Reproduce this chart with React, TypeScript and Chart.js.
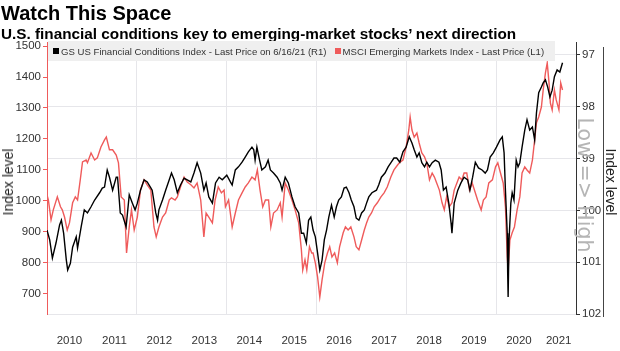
import React, { useEffect, useRef } from "react";
import { Chart, registerables } from "chart.js";

Chart.register(...registerables);

const titleText = "Watch This Space";
const subtitleText = "U.S. financial conditions key to emerging-market stocks’ next direction";
const gsLabel = "GS US Financial Conditions Index - Last Price on 6/16/21 (R1)";
const msciLabel = "MSCI Emerging Markets Index - Last Price (L1)";
const axisTitle = "Index level";
const directionNote = "Low => High";

const yearLabels = ["2010", "2011", "2012", "2013", "2014", "2015", "2016", "2017", "2018", "2019", "2020", "2021"];
const leftTicks = [700, 800, 900, 1000, 1100, 1200, 1300, 1400, 1500];
const rightTicks = [97, 98, 99, 100, 101, 102];

// GS US Financial Conditions Index (right axis, inverted)
const gsDates = [
  2010.0, 2010.06, 2010.12, 2010.2, 2010.28, 2010.32, 2010.37, 2010.43, 2010.46, 2010.52, 2010.57, 2010.65, 2010.68,
  2010.76, 2010.83, 2010.9, 2010.98, 2011.06, 2011.17, 2011.23, 2011.28, 2011.34, 2011.39, 2011.46, 2011.54, 2011.57,
  2011.63, 2011.68, 2011.76, 2011.83, 2011.9, 2011.96, 2012.01, 2012.08, 2012.16, 2012.23, 2012.3, 2012.34, 2012.42,
  2012.46, 2012.49, 2012.57, 2012.64, 2012.72, 2012.77, 2012.83, 2012.9, 2012.97, 2013.05, 2013.12, 2013.2, 2013.27,
  2013.34, 2013.42, 2013.49, 2013.54, 2013.6, 2013.68, 2013.75, 2013.83, 2013.9, 2014.0, 2014.08, 2014.12, 2014.19,
  2014.26, 2014.34, 2014.41, 2014.48, 2014.56, 2014.6, 2014.63, 2014.67, 2014.73, 2014.78, 2014.86, 2014.92, 2014.97,
  2015.04, 2015.12, 2015.19, 2015.23, 2015.3, 2015.37, 2015.45, 2015.52, 2015.6, 2015.66, 2015.71, 2015.77, 2015.82,
  2015.87, 2015.92, 2015.97, 2016.02, 2016.07, 2016.12, 2016.17, 2016.22, 2016.27, 2016.33, 2016.39, 2016.44, 2016.49,
  2016.55, 2016.61, 2016.66, 2016.72, 2016.77, 2016.83, 2016.88, 2016.94, 2017.0, 2017.06, 2017.11, 2017.16, 2017.23,
  2017.33, 2017.38, 2017.44, 2017.52, 2017.59, 2017.66, 2017.72, 2017.78, 2017.85, 2017.92, 2017.99, 2018.06, 2018.12,
  2018.17, 2018.23, 2018.28, 2018.34, 2018.4, 2018.45, 2018.51, 2018.57, 2018.64, 2018.72, 2018.77, 2018.82, 2018.88,
  2018.94, 2018.99, 2019.01, 2019.06, 2019.14, 2019.21, 2019.28, 2019.36, 2019.41, 2019.47, 2019.53, 2019.6, 2019.68,
  2019.75, 2019.8, 2019.86, 2019.93, 2020.0, 2020.08, 2020.13, 2020.17, 2020.2, 2020.24, 2020.25, 2020.26, 2020.28,
  2020.32, 2020.35, 2020.39, 2020.44, 2020.48, 2020.52, 2020.57, 2020.63, 2020.68, 2020.74, 2020.8, 2020.85, 2020.89,
  2020.94, 2021.0, 2021.04, 2021.09, 2021.14, 2021.19, 2021.24, 2021.29, 2021.35, 2021.41, 2021.47,
];
const gsValues = [
  100.38, 100.57, 100.92, 100.63, 100.28, 100.19, 100.44, 100.96, 101.15, 101.02, 100.71, 100.51, 100.73,
  100.32, 99.99, 100.05, 99.93, 99.8, 99.66, 99.57, 99.55, 99.22, 99.36, 99.61, 99.36, 99.36,
  100.05, 100.09, 100.32, 99.7, 99.86, 99.99, 99.86, 99.61, 99.41, 99.45, 99.55, 99.61, 100.05,
  100.19, 99.99, 99.8, 99.61, 99.41, 99.28, 99.41, 99.66, 99.51, 99.38, 99.41, 99.45, 99.28,
  99.08, 99.28, 99.61, 99.47, 99.74, 99.86, 99.47, 99.36, 99.41, 99.32, 99.45, 99.51, 99.22,
  99.16, 99.07, 98.97, 98.87, 98.78, 98.83, 99.03, 98.78, 99.03, 99.22, 99.16, 99.03, 99.22,
  99.28, 99.36, 99.47, 99.61, 99.36, 99.47, 99.74, 99.93, 100.05, 100.44, 100.44, 100.63, 100.19,
  100.13, 100.38, 100.51, 100.82, 101.15, 100.96, 100.57, 100.38, 100.13, 99.9, 100.13, 99.93, 99.8,
  99.74, 99.57, 99.55, 99.66, 99.8, 99.93, 100.15, 100.19, 100.05, 99.99, 99.86, 99.74, 99.66,
  99.61, 99.51, 99.36, 99.28, 99.16, 99.07, 98.99, 98.99, 99.07, 98.87, 98.78, 98.58, 98.7,
  98.83, 98.97, 98.89, 99.08, 99.16, 99.07, 99.16, 99.08, 99.03, 99.07, 99.22, 99.61, 99.55,
  99.86, 100.24, 100.44, 99.86, 99.61, 99.47, 99.36, 99.41, 99.61, 99.36, 99.07, 99.18, 99.22,
  99.28, 99.22, 98.97, 98.89, 98.78, 98.64, 98.58, 98.89, 99.61, 100.44, 101.21, 101.67, 100.57,
  99.86, 99.66, 99.8, 99.03, 99.16, 99.08, 98.78, 98.45, 98.25, 98.45, 98.39, 98.64, 98.12,
  97.73, 97.62, 97.54, 97.48, 97.62, 97.81, 97.68, 97.42, 97.29, 97.33, 97.15,
];

// MSCI Emerging Markets Index (left axis)
const msciDates = [
  2010.0, 2010.03, 2010.09, 2010.14, 2010.23, 2010.3, 2010.34, 2010.39, 2010.45, 2010.5, 2010.57, 2010.63, 2010.68,
  2010.74, 2010.79, 2010.87, 2010.9, 2010.98, 2011.06, 2011.12, 2011.2, 2011.28, 2011.32, 2011.39, 2011.46, 2011.54,
  2011.59, 2011.65, 2011.72, 2011.77, 2011.83, 2011.88, 2011.94, 2012.01, 2012.08, 2012.16, 2012.23, 2012.31, 2012.38,
  2012.43, 2012.49, 2012.57, 2012.64, 2012.72, 2012.77, 2012.85, 2012.9, 2012.97, 2013.05, 2013.12, 2013.2, 2013.27,
  2013.34, 2013.42, 2013.49, 2013.54, 2013.6, 2013.68, 2013.74, 2013.81, 2013.88, 2013.94, 2013.97, 2014.04, 2014.12,
  2014.19, 2014.26, 2014.34, 2014.41, 2014.48, 2014.56, 2014.63, 2014.68, 2014.74, 2014.8, 2014.86, 2014.93, 2014.98,
  2015.04, 2015.12, 2015.19, 2015.23, 2015.3, 2015.37, 2015.45, 2015.52, 2015.6, 2015.66, 2015.69, 2015.74, 2015.78,
  2015.84, 2015.89, 2015.92, 2015.97, 2016.02, 2016.07, 2016.12, 2016.18, 2016.24, 2016.29, 2016.34, 2016.4, 2016.46,
  2016.51, 2016.59, 2016.64, 2016.7, 2016.76, 2016.83, 2016.88, 2016.94, 2017.0, 2017.06, 2017.11, 2017.16, 2017.22,
  2017.28, 2017.35, 2017.43, 2017.5, 2017.57, 2017.65, 2017.72, 2017.8, 2017.84, 2017.92, 2017.99, 2018.05, 2018.08,
  2018.12, 2018.17, 2018.23, 2018.28, 2018.34, 2018.4, 2018.45, 2018.51, 2018.57, 2018.62, 2018.67, 2018.73, 2018.79,
  2018.84, 2018.89, 2018.95, 2019.01, 2019.06, 2019.12, 2019.17, 2019.23, 2019.28, 2019.34, 2019.4, 2019.46, 2019.51,
  2019.58, 2019.66, 2019.71, 2019.77, 2019.83, 2019.91, 2019.98, 2020.03, 2020.09, 2020.15, 2020.2, 2020.24, 2020.26,
  2020.3, 2020.35, 2020.4, 2020.46, 2020.52, 2020.57, 2020.63, 2020.68, 2020.74, 2020.8, 2020.85, 2020.89, 2020.94,
  2021.0, 2021.04, 2021.09, 2021.13, 2021.17, 2021.2, 2021.24, 2021.29, 2021.33, 2021.39, 2021.43, 2021.47,
];
const msciValues = [
  1019, 1003, 939, 971, 1013, 981, 971, 948, 906, 929, 994, 1013, 1003,
  1068, 1126, 1132, 1123, 1155, 1132, 1139, 1174, 1197, 1206, 1165, 1165, 1148,
  1123, 1013, 1003, 832, 916, 971, 906, 948, 1035, 1068, 1052, 1035, 916,
  884, 916, 948, 961, 1003, 1010, 1003, 1013, 1045, 1077, 1061, 1052, 1042,
  1058, 1003, 884, 961, 948, 929, 1003, 1045, 1026, 1035, 981, 1003, 916,
  961, 1003, 1026, 1045, 1058, 1077, 1068, 1100, 1035, 981, 1003, 1003, 916,
  961, 971, 994, 948, 1058, 1035, 1003, 971, 929, 842, 777, 810, 777,
  852, 832, 832, 800, 755, 690, 745, 800, 832, 852, 819, 832, 800,
  852, 897, 916, 906, 916, 884, 852, 842, 874, 906, 929, 948, 961,
  981, 994, 1013, 1026, 1045, 1077, 1100, 1116, 1123, 1132, 1174, 1229, 1271,
  1229, 1206, 1219, 1187, 1155, 1142, 1123, 1068, 1090, 1077, 1058, 1035, 994,
  971, 1013, 981, 994, 1035, 1058, 1077, 1068, 1090, 1090, 1035, 1058, 1035,
  1003, 971, 1003, 1013, 1058, 1068, 1110, 1123, 1090, 1058, 981, 819, 777,
  874, 897, 916, 971, 1013, 1090, 1110, 1100, 1090, 1132, 1197, 1252, 1271,
  1303, 1358, 1413, 1445, 1381, 1316, 1294, 1358, 1326, 1294, 1381, 1358,
];

const RED = "#ef5b5b";
const TICK_FONT = { family: "'Liberation Sans', Arial, sans-serif", size: 11.5 };

export default function App() {
  const canvasRef = useRef<HTMLCanvasElement>(null);

  useEffect(() => {
    const canvas = canvasRef.current;
    if (!canvas) return;
    const chart = new Chart(canvas, {
      type: "line",
      data: {
        datasets: [
          {
            label: gsLabel,
            data: gsDates.map((d, i) => ({ x: d, y: gsValues[i] })),
            yAxisID: "yR",
            borderColor: "#000000",
            borderWidth: 1.4,
            pointRadius: 0,
            tension: 0,
            order: 0,
          },
          {
            label: msciLabel,
            data: msciDates.map((d, i) => ({ x: d, y: msciValues[i] })),
            yAxisID: "yL",
            borderColor: RED,
            borderWidth: 1.4,
            pointRadius: 0,
            tension: 0,
            order: 1,
          },
        ],
      },
      options: {
        responsive: false,
        animation: false,
        layout: { padding: { top: 42, left: 0, right: 0, bottom: 0 } },
        plugins: {
          legend: { display: false },
          tooltip: { enabled: false },
        },
        scales: {
          x: {
            type: "linear",
            min: 2010,
            max: 2021.77,
            afterBuildTicks: (s: any) => {
              const t: any[] = [];
              for (let y = 2010; y <= 2020; y++) {
                t.push({ value: y });
                t.push({ value: y + 0.5 });
              }
              t.push({ value: 2021 });
              t.push({ value: (2021 + 2021.77) / 2 });
              s.ticks = t;
            },
            afterFit: (s: any) => {
              s.height = 37;
            },
            grid: {
              drawTicks: false,
              color: (c: any) => {
                const v = c.tick ? c.tick.value : undefined;
                return v !== undefined && Number.isInteger(v) && v % 2 === 0 && v > 2010
                  ? "#e6e6ea"
                  : "rgba(0,0,0,0)";
              },
            },
            border: { display: false },
            ticks: {
              autoSkip: false,
              maxRotation: 0,
              padding: 20,
              color: "#333",
              font: TICK_FONT,
              callback: (v: any) => {
                const n = Number(v);
                if (Number.isInteger(n)) return "";
                return yearLabels[Math.floor(n) - 2010] || "";
              },
            },
          },
          yL: {
            type: "linear",
            position: "left",
            min: 635,
            max: 1513,
            afterBuildTicks: (s: any) => {
              s.ticks = leftTicks.map((v) => ({ value: v }));
            },
            afterFit: (s: any) => {
              s.width = 47;
            },
            grid: { drawOnChartArea: false, tickLength: 4, tickColor: RED, color: RED },
            border: { color: RED },
            ticks: { padding: 2, color: "#333", font: TICK_FONT, callback: (v: any) => String(v) },
          },
          yR: {
            type: "linear",
            position: "right",
            reverse: true,
            min: 96.75,
            max: 102,
            afterBuildTicks: (s: any) => {
              s.ticks = rightTicks.map((v) => ({ value: v }));
            },
            afterFit: (s: any) => {
              s.width = 44;
            },
            grid: { color: "#e6e6ea", tickLength: 4, tickColor: "#333" },
            border: { color: "#333" },
            ticks: { padding: 2, color: "#333", font: TICK_FONT, callback: (v: any) => String(v) },
          },
        },
      },
    });
    return () => chart.destroy();
  }, []);

  const sans = "'Liberation Sans', Arial, sans-serif";

  return (
    <div style={{ position: "absolute", left: 0, top: 0, width: 620, height: 351, background: "#fff", overflow: "hidden" }}>
      <canvas ref={canvasRef} width={620} height={351} style={{ position: "absolute", left: 0, top: 0, width: 620, height: 351 }} />
      <div style={{ position: "absolute", left: 1, top: 3, font: `bold 20px ${sans}`, lineHeight: "20px", color: "#000", whiteSpace: "nowrap" }}>
        {titleText}
      </div>
      <div style={{ position: "absolute", left: 1, top: 25.5, font: `bold 15.3px ${sans}`, lineHeight: "15.3px", color: "#000", whiteSpace: "nowrap" }}>
        {subtitleText}
      </div>
      <div
        style={{
          position: "absolute",
          left: 48,
          top: 41,
          width: 507,
          height: 20,
          background: "#efefef",
          display: "flex",
          alignItems: "center",
          font: `9.6px ${sans}`,
          color: "#333",
          whiteSpace: "nowrap",
        }}
      >
        <span style={{ display: "inline-block", width: 6, height: 6, background: "#000", marginLeft: 5, marginRight: 2 }} />
        <span>{gsLabel}</span>
        <span style={{ display: "inline-block", width: 6, height: 6, background: RED, marginLeft: 8, marginRight: 2 }} />
        <span>{msciLabel}</span>
      </div>
      <div
        style={{
          position: "absolute",
          left: 8,
          top: 182,
          transform: "translate(-50%, -50%) rotate(-90deg)",
          font: `14px ${sans}`,
          lineHeight: "14px",
          color: "#222",
          whiteSpace: "nowrap",
        }}
      >
        {axisTitle}
      </div>
      <div
        style={{
          position: "absolute",
          left: 585,
          top: 185,
          transform: "translate(-50%, -50%) rotate(90deg)",
          font: `20.5px 'DejaVu Sans', sans-serif`,
          lineHeight: "20.5px",
          color: "#b5b5b5",
          whiteSpace: "nowrap",
        }}
      >
        {directionNote}
      </div>
      <div style={{ position: "absolute", left: 603, top: 47, width: 1, height: 270, background: "#444" }} />
      <div
        style={{
          position: "absolute",
          left: 611,
          top: 182,
          transform: "translate(-50%, -50%) rotate(90deg)",
          font: `14px ${sans}`,
          lineHeight: "14px",
          color: "#222",
          whiteSpace: "nowrap",
        }}
      >
        {axisTitle}
      </div>
    </div>
  );
}
